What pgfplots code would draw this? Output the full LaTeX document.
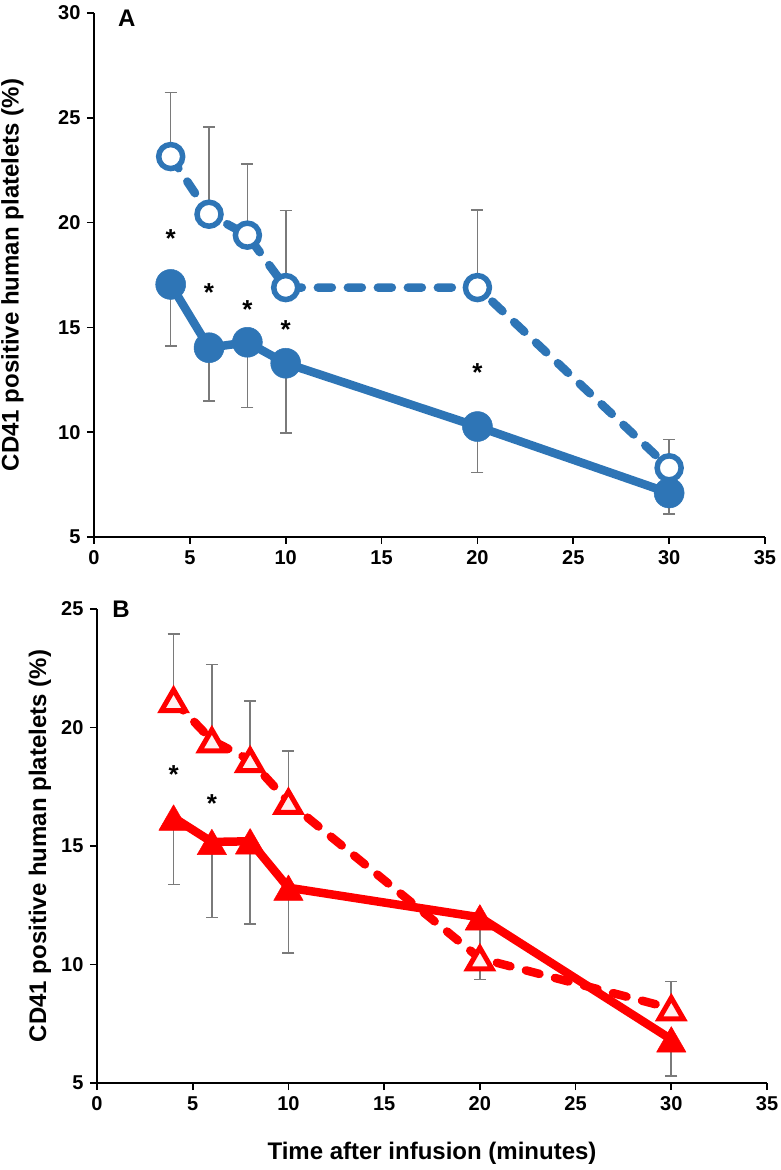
\documentclass[border=0pt]{standalone}
\usepackage{fontspec}
\setmainfont{Liberation Sans}
\usepackage{pgfplots}
\pgfplotsset{compat=1.18}
\definecolor{cblue}{HTML}{2E75B6}
\definecolor{cred}{HTML}{FF0000}
\definecolor{errgray}{HTML}{7A7A7A}
\pgfdeclareplotmark{ctri}{%
  \pgfpathmoveto{\pgfqpoint{0pt}{0.75\pgfplotmarksize}}%
  \pgfpathlineto{\pgfqpoint{0.866\pgfplotmarksize}{-0.75\pgfplotmarksize}}%
  \pgfpathlineto{\pgfqpoint{-0.866\pgfplotmarksize}{-0.75\pgfplotmarksize}}%
  \pgfpathclose
  \pgfusepathqfillstroke
}
\tikzset{
  star/.style={font=\fontsize{26}{26}\selectfont\bfseries, yshift=-5.5pt},
  panellabel/.style={font=\fontsize{24}{24}\selectfont\bfseries},
  ylab/.style={font=\fontsize{24}{24}\selectfont\bfseries},
}
\pgfplotsset{
  panel/.style={
    scale only axis,
    axis lines=left,
    axis line style={-, line width=1.7pt, black},
    tick align=outside,
    major tick length=7pt,
    tick style={line width=1.6pt, black},
    xmin=0, xmax=35,
    xtick={0,5,...,35},
    /pgf/number format/assume math mode=true,
    tick label style={font=\fontsize{20}{20}\selectfont\bfseries},
    yticklabel style={xshift=-3pt},
    xticklabel style={yshift=-3pt},
    clip=false,
  },
  ebar/.style={only marks, mark=none, forget plot,
    error bars/.cd, y dir=#1, y explicit,
    error bar style={errgray, line width=1.6pt, solid},
    error mark options={errgray, line width=1.6pt, mark size=6pt, rotate=90, solid}},
}
\begin{document}
\begin{tikzpicture}
\useasboundingbox (0,0) rectangle (780pt,1170pt);
% ---------------- Panel A ----------------
\begin{axis}[panel,
  at={(94pt,633pt)}, anchor=south west,
  width=671pt, height=524pt,
  ymin=5, ymax=30, ytick={5,10,...,30},
  ylabel={CD41 positive human platelets (\%)},
  ylabel style={ylab, at={(axis description cs:-0.1215,0.5)}, anchor=center},
]
\addplot[ebar=plus] coordinates {
 (4,23.15) +- (0,3.05)
 (6,20.4) +- (0,4.17)
 (8,19.4) +- (0,3.4)
 (10,16.9) +- (0,3.68)
 (20,16.9) +- (0,3.69)
 (30,8.3) +- (0,1.35)
};
\addplot[ebar=minus] coordinates {
 (4,17.05) +- (0,2.94)
 (6,14.03) +- (0,2.55)
 (8,14.29) +- (0,3.12)
 (10,13.29) +- (0,3.34)
 (20,10.27) +- (0,2.2)
 (30,7.1) +- (0,1.0)
};
\addplot[cblue, line width=8.5pt, line cap=round, dash pattern=on 14pt off 16pt,
  mark=*, mark size=12pt, mark options={solid, fill=white, draw=cblue, line width=5.5pt}]
 coordinates {(4,23.15) (6,20.4) (8,19.4) (10,16.9) (20,16.9) (30,8.3)};
\addplot[cblue, line width=8.5pt, line join=round,
  mark=*, mark size=15pt, mark options={solid, fill=cblue, draw=cblue, line width=0.5pt}]
 coordinates {(4,17.05) (6,14.03) (8,14.29) (10,13.29) (20,10.27) (30,7.1)};
\node[star] at (axis cs:4,19.48) {*};
\node[star] at (axis cs:6,16.94) {*};
\node[star] at (axis cs:8,16.1) {*};
\node[star] at (axis cs:10,15.14) {*};
\node[star] at (axis cs:20,13.1) {*};
\node[panellabel] at (axis description cs:0.049,0.99) {A};
\end{axis}
% ---------------- Panel B ----------------
\begin{axis}[panel,
  at={(97pt,87pt)}, anchor=south west,
  width=670pt, height=474pt,
  ymin=5, ymax=25, ytick={5,10,...,25},
  ylabel={CD41 positive human platelets (\%)},
  ylabel style={ylab, at={(axis description cs:-0.085,0.5)}, anchor=center},
  xlabel={Time after infusion (minutes)},
  xlabel style={ylab, at={(axis description cs:0.5,-0.1477)}, anchor=center},
]
\addplot[ebar=plus] coordinates {
 (4,21.15) +- (0,2.8)
 (6,19.46) +- (0,3.2)
 (8,18.62) +- (0,2.5)
 (10,16.86) +- (0,2.15)
 (30,8.15) +- (0,1.13)
};
\addplot[ebar=minus] coordinates {
 (4,16.2) +- (0,2.83)
 (6,15.17) +- (0,3.18)
 (8,15.2) +- (0,3.5)
 (10,13.24) +- (0,2.75)
 (20,11.99) +- (0,2.62)
 (30,6.84) +- (0,1.54)
};
\addplot[cred, line width=8.5pt, line cap=round, dash pattern=on 14pt off 16pt,
  mark=ctri, mark size=14pt, mark options={solid, fill=red!6, draw=cred, line width=5pt, line join=miter}]
 coordinates {(4,21.15) (6,19.46) (8,18.62) (10,16.86) (20,10.26) (30,8.15)};
\addplot[cred, line width=8.5pt, line join=round,
  mark=ctri, mark size=17pt, mark options={solid, fill=cred, draw=cred, line width=0.5pt}]
 coordinates {(4,16.2) (6,15.17) (8,15.2) (10,13.24) (20,11.99) (30,6.84)};
\node[star] at (axis cs:4,18.23) {*};
\node[star] at (axis cs:6,17.03) {*};
\node[panellabel] at (axis description cs:0.036,1.0) {B};
\end{axis}
\end{tikzpicture}
\end{document}
